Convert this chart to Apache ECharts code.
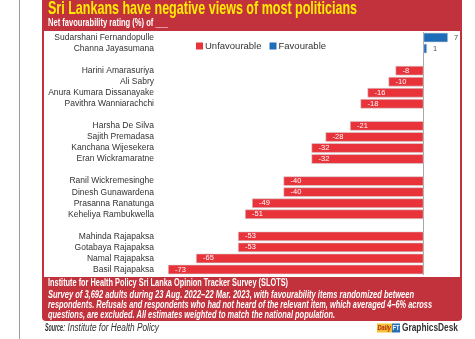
<!DOCTYPE html>
<html><head><meta charset="utf-8">
<script src="https://cdn.jsdelivr.net/npm/echarts@6/dist/echarts.min.js"></script>
<style>html,body{margin:0;padding:0;background:#fff}#c{width:475px;height:339px}</style>
</head><body><div id="c"></div>
<script>
const categories = ['Sudarshani Fernandopulle','Channa Jayasumana','',
  'Harini Amarasuriya','Ali Sabry','Anura Kumara Dissanayake','Pavithra Wanniarachchi','',
  'Harsha De Silva','Sajith Premadasa','Kanchana Wijesekera','Eran Wickramaratne','',
  'Ranil Wickremesinghe','Dinesh Gunawardena','Prasanna Ranatunga','Keheliya Rambukwella','',
  'Mahinda Rajapaksa','Gotabaya Rajapaksa','Namal Rajapaksa','Basil Rajapaksa'];
const unfavourable = [null,null,null,-8,-10,-16,-18,null,-21,-28,-32,-32,null,-40,-40,-49,-51,null,-53,-53,-65,-73];
const favourable = [7,1,null,null,null,null,null,null,null,null,null,null,null,null,null,null,null,null,null,null,null,null];
const seriesNames = ['Unfavourable','Favourable'];
const titleText = 'Sri Lankans have negative views of most politicians';
const subtitleText = 'Net favourability rating (%) of ___';
const footerLines = [
  'Institute for Health Policy Sri Lanka Opinion Tracker Survey (SLOTS)',
  'Survey of 3,692 adults during 23 Aug. 2022\u201322 Mar. 2023, with favourability items randomized between',
  'respondents. Refusals and respondents who had not heard of the relevant item, which averaged 4\u20136% across',
  'questions, are excluded. All estimates weighted to match the national population.'
];
const sourceLabel = 'Source';
const sourceText = ': Institute for Health Policy';

const ctx = document.createElement('canvas').getContext('2d');
function mw(text, font){ ctx.font = font; return ctx.measureText(text).width; }
function fitText(text, font, x, y, width, fill, extra){
  const s = width / mw(text, font);
  return Object.assign({type:'text', x:x, y:y, scaleX:s, z:10,
    style:{text:text, font:font, fill:fill, textAlign:'left', textVerticalAlign:'middle'}}, extra||{});
}
const F = '"Liberation Sans", Arial, sans-serif';
const RED_PANEL = '#c1323c';
const BAR_RED = '#e8333b';
const BLUE = '#1f6cb9';

const graphics = [
  {type:'line', shape:{x1:19.5,y1:0,x2:19.5,y2:339}, style:{stroke:'#9a9a9a', lineWidth:1}, z:0},
  {type:'rect', shape:{x:42,y:0,width:420,height:321,r:[0,0,4,4]}, style:{fill:RED_PANEL}, z:0},
  {type:'rect', shape:{x:44,y:31,width:416,height:246}, style:{fill:'#ffffff'}, z:1},
  fitText(titleText, 'bold 19px ' + F, 48, 9, 309, '#ffec00'),
  fitText(subtitleText, 'bold 10px ' + F, 48, 23, 120, '#ffffff'),
  fitText(footerLines[0], 'bold 10px ' + F, 48, 283.5, 240, '#ffffff'),
  fitText(footerLines[1], 'italic bold 10px ' + F, 48, 295, 366, '#ffffff'),
  fitText(footerLines[2], 'italic bold 10px ' + F, 48, 305, 384, '#ffffff'),
  fitText(footerLines[3], 'italic bold 10px ' + F, 48, 315, 287, '#ffffff'),
  fitText(sourceLabel, 'italic bold 10px ' + F, 45, 328, 18, '#333333'),
  fitText(sourceText, 'italic 10px ' + F, 63, 328, 96, '#333333'),
  {type:'rect', shape:{x:377,y:323.5,width:15,height:9}, style:{fill:'#f2c230'}, z:10},
  fitText('Daily', 'italic bold 8px ' + F, 377.5, 328, 13.5, '#b3261e'),
  {type:'rect', shape:{x:392,y:323.5,width:8,height:9}, style:{fill:'#2a6fb5'}, z:10},
  fitText('FT', 'bold 8px ' + F, 392.5, 328, 7, '#ffffff'),
  fitText('GraphicsDesk', 'bold 10px ' + F, 402, 328, 56, '#333333')
];

const chart = echarts.init(document.getElementById('c'), null, {renderer:'canvas'});
chart.setOption({
  animation:false,
  graphic: graphics,
  legend:{
    data: seriesNames, left:196, top:41, padding:0, icon:'rect', itemWidth:7, itemHeight:7, itemGap:8, z:20,
    itemStyle:{borderWidth:0},
    textStyle:{fontSize:9.5, color:'#333', fontFamily:F, padding:[0,0,0,-3]}
  },
  grid:{left:168, width:280, top:32, height:243, containLabel:false},
  xAxis:{type:'value', min:-73, max:7, show:false, splitLine:{show:false}},
  yAxis:{type:'category', data:categories, inverse:true, z:20,
    axisLine:{show:false}, axisTick:{show:false}, splitLine:{show:false},
    axisLabel:{color:'#333', fontSize:8.5, fontFamily:F, margin:14, interval:0}},
  series:[
    {name:seriesNames[0], type:'bar', stack:'s', data:unfavourable, barWidth:9.5, z:20,
      itemStyle:{color:BAR_RED, borderColor:'#d4d4d4', borderWidth:0.6},
      label:{show:true, position:'insideLeft', distance:7, color:'#fff', fontSize:7.5, fontFamily:F},
      markLine:{silent:true, symbol:'none', label:{show:false},
        lineStyle:{color:'#a8a8a8', width:1, type:'solid'}, data:[{xAxis:0}]}},
    {name:seriesNames[1], type:'bar', stack:'s', data:favourable, barWidth:9.5, z:20,
      itemStyle:{color:BLUE, borderColor:'#d4d4d4', borderWidth:0.6},
      label:{show:true, position:'right', distance:6, color:'#555', fontSize:7.5, fontFamily:F}}
  ]
});
</script></body></html>
